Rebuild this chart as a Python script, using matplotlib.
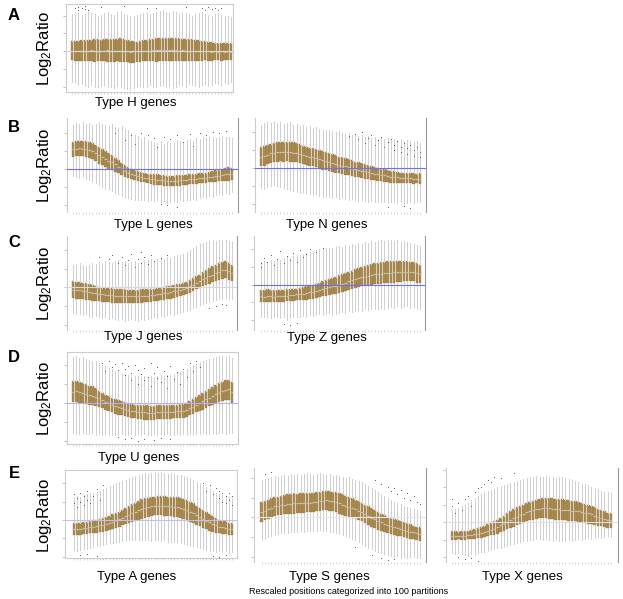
import matplotlib
matplotlib.use("Agg")
import matplotlib.pyplot as plt

plt.rcParams['font.family'] = ['Liberation Sans', 'DejaVu Sans']
plt.rcParams['mathtext.default'] = 'regular'

# 50 boxes per panel, values in log2 ratio
# Type H
h_q3 = [0.56,0.55,0.58,0.6,0.62,0.6,0.63,0.65,0.66,0.64,0.68,0.7,0.68,0.66,0.7,0.72,0.7,0.62,0.58,0.55,0.52,0.55,0.6,0.64,0.68,0.7,0.72,0.74,0.75,0.73,0.76,0.75,0.74,0.72,0.7,0.68,0.7,0.66,0.62,0.6,0.56,0.54,0.5,0.48,0.47,0.45,0.44,0.45,0.43,0.44]
h_q1 = [-0.52,-0.55,-0.54,-0.56,-0.58,-0.57,-0.58,-0.6,-0.58,-0.56,-0.58,-0.6,-0.62,-0.6,-0.58,-0.6,-0.62,-0.64,-0.66,-0.65,-0.63,-0.6,-0.58,-0.57,-0.56,-0.58,-0.6,-0.58,-0.57,-0.56,-0.58,-0.56,-0.55,-0.56,-0.57,-0.56,-0.55,-0.54,-0.56,-0.55,-0.54,-0.53,-0.55,-0.54,-0.52,-0.53,-0.54,-0.52,-0.53,-0.52]
h_med = [0.0,0.02,-0.01,0.01,0.0,0.02,0.03,0.01,0.0,0.02,0.01,0.03,0.02,0.0,0.01,0.02,0.0,-0.02,-0.03,-0.02,-0.01,0.0,0.01,0.02,0.02,0.03,0.04,0.03,0.04,0.03,0.05,0.04,0.03,0.02,0.03,0.01,0.02,0.0,-0.01,0.0,-0.02,-0.01,-0.02,-0.03,-0.02,-0.03,-0.02,-0.03,-0.02,-0.03]
h_hi = [2.1,2.15,2.2,2.05,2.1,2.2,2.15,2.1,2.0,2.05,2.15,2.2,2.1,2.05,2.2,2.25,2.1,2.05,2.0,2.0,2.05,2.1,2.15,2.2,2.1,2.15,2.2,2.25,2.3,2.2,2.15,2.25,2.2,2.1,2.2,2.15,2.1,2.0,2.1,2.15,2.2,2.1,2.05,2.0,2.1,2.15,2.05,2.0,1.95,1.9]
h_lo = [-1.75,-1.8,-1.9,-1.85,-1.95,-2.0,-1.9,-2.05,-2.0,-1.95,-1.9,-2.0,-2.05,-2.1,-1.95,-2.0,-2.1,-2.15,-2.2,-2.1,-2.0,-1.95,-2.05,-2.0,-1.9,-2.0,-2.05,-1.95,-1.9,-2.0,-1.95,-2.1,-2.0,-1.9,-1.95,-2.0,-1.85,-1.9,-1.95,-2.0,-1.9,-1.85,-1.95,-1.9,-1.8,-1.85,-1.9,-1.8,-1.85,-1.75]
h_out_x = [2,3,3,4,5,5,6,10,17,24,27,36,41,42,43,44,45,46,47]
h_out_y = [2.4,2.5,2.3,2.45,2.35,2.55,2.3,2.5,2.55,2.45,2.4,2.5,2.4,2.3,2.5,2.35,2.45,2.3,2.4]

# Type L
l_q3 = [1.52,1.55,1.57,1.55,1.57,1.5,1.42,1.33,1.24,1.13,1.0,0.9,0.78,0.62,0.48,0.33,0.22,0.1,0.0,-0.05,-0.12,-0.18,-0.22,-0.26,-0.28,-0.3,-0.3,-0.32,-0.34,-0.38,-0.38,-0.38,-0.36,-0.36,-0.34,-0.32,-0.3,-0.3,-0.27,-0.24,-0.22,-0.2,-0.16,-0.12,-0.08,-0.05,0.0,0.05,0.1,0.08]
l_q1 = [0.69,0.7,0.72,0.7,0.68,0.62,0.55,0.45,0.3,0.2,0.1,0.02,-0.05,-0.15,-0.25,-0.35,-0.43,-0.5,-0.55,-0.6,-0.65,-0.7,-0.75,-0.8,-0.85,-0.87,-0.88,-0.9,-0.92,-0.94,-0.94,-0.94,-0.93,-0.92,-0.9,-0.88,-0.86,-0.84,-0.82,-0.8,-0.78,-0.76,-0.74,-0.72,-0.7,-0.68,-0.66,-0.65,-0.65,-0.62]
l_med = [1.1,1.12,1.15,1.12,1.13,1.08,1.0,0.9,0.78,0.67,0.55,0.45,0.37,0.25,0.12,0.0,-0.1,-0.2,-0.27,-0.33,-0.38,-0.43,-0.48,-0.52,-0.55,-0.58,-0.6,-0.6,-0.62,-0.65,-0.66,-0.66,-0.65,-0.64,-0.62,-0.6,-0.58,-0.57,-0.55,-0.52,-0.5,-0.48,-0.45,-0.42,-0.4,-0.37,-0.33,-0.3,-0.28,-0.27]
l_hi = [2.45,2.55,2.5,2.6,2.5,2.55,2.45,2.5,2.6,2.5,2.45,2.4,2.5,2.35,2.3,2.4,2.2,2.15,2.0,1.9,1.85,1.7,1.75,1.6,1.55,1.5,1.45,1.55,1.4,1.5,1.45,1.5,1.6,1.55,1.5,1.6,1.65,1.55,1.7,1.65,1.75,1.7,1.8,1.75,1.7,1.8,1.85,1.75,1.8,1.7]
l_lo = [-0.4,-0.45,-0.5,-0.45,-0.55,-0.6,-0.7,-0.8,-0.9,-1.0,-1.1,-1.15,-1.25,-1.35,-1.4,-1.5,-1.55,-1.6,-1.65,-1.7,-1.7,-1.75,-1.7,-1.8,-1.75,-1.8,-1.75,-1.85,-1.8,-1.9,-1.85,-1.8,-1.85,-1.75,-1.8,-1.7,-1.75,-1.65,-1.7,-1.6,-1.55,-1.6,-1.5,-1.55,-1.45,-1.4,-1.45,-1.35,-1.4,-1.3]
l_out_x = [14,17,19,20,22,24,26,27,29,31,33,35,37,38,40,42,44,46,48,30,33,28]
l_out_y = [2.0,1.6,1.9,1.4,2.0,1.9,1.7,1.2,1.8,1.65,1.9,1.5,1.95,1.3,2.0,1.9,2.05,2.0,2.1,-2.0,-2.1,-1.95]

# Type N
n_q3 = [1.2,1.25,1.3,1.35,1.4,1.44,1.47,1.48,1.46,1.45,1.43,1.38,1.32,1.26,1.2,1.15,1.1,1.05,1.0,0.93,0.88,0.82,0.77,0.72,0.65,0.6,0.55,0.5,0.43,0.37,0.32,0.27,0.22,0.16,0.1,0.06,0.02,-0.02,-0.06,-0.1,-0.14,-0.18,-0.2,-0.24,-0.27,-0.28,-0.29,-0.28,-0.3,-0.28]
n_q1 = [0.1,0.15,0.22,0.28,0.32,0.36,0.38,0.37,0.38,0.36,0.35,0.32,0.28,0.25,0.2,0.15,0.1,0.05,0.0,-0.08,-0.12,-0.16,-0.2,-0.24,-0.28,-0.32,-0.36,-0.4,-0.43,-0.46,-0.5,-0.53,-0.57,-0.6,-0.64,-0.67,-0.7,-0.72,-0.75,-0.78,-0.8,-0.81,-0.82,-0.83,-0.83,-0.84,-0.84,-0.85,-0.84,-0.85]
n_med = [0.65,0.7,0.76,0.82,0.85,0.88,0.9,0.89,0.88,0.88,0.87,0.84,0.8,0.75,0.7,0.65,0.6,0.55,0.5,0.43,0.38,0.33,0.28,0.24,0.19,0.14,0.1,0.05,0.0,-0.04,-0.09,-0.13,-0.17,-0.22,-0.27,-0.3,-0.34,-0.37,-0.4,-0.44,-0.47,-0.5,-0.51,-0.53,-0.55,-0.56,-0.56,-0.57,-0.57,-0.57]
n_hi = [2.4,2.5,2.55,2.5,2.6,2.5,2.55,2.45,2.5,2.55,2.4,2.45,2.35,2.4,2.3,2.35,2.25,2.3,2.2,2.15,2.1,2.15,2.05,2.0,2.05,1.95,1.9,1.95,1.85,1.9,1.8,1.85,1.75,1.8,1.7,1.75,1.65,1.7,1.6,1.7,1.65,1.6,1.55,1.6,1.5,1.55,1.5,1.45,1.5,1.4]
n_lo = [-1.1,-1.15,-1.05,-1.0,-0.95,-1.0,-1.05,-1.1,-1.15,-1.2,-1.25,-1.3,-1.35,-1.3,-1.4,-1.45,-1.5,-1.45,-1.55,-1.6,-1.55,-1.6,-1.65,-1.6,-1.7,-1.65,-1.7,-1.75,-1.7,-1.75,-1.8,-1.75,-1.8,-1.85,-1.8,-1.85,-1.9,-1.85,-1.9,-1.95,-1.85,-1.9,-1.95,-1.9,-2.0,-1.95,-1.9,-1.95,-1.85,-1.9]
n_out_x = [28,30,31,32,33,34,35,36,37,38,39,40,41,42,42,43,44,44,45,46,46,47,48,48,49,50,50,45,47,40]
n_out_y = [1.8,1.9,1.6,2.0,1.4,1.7,1.85,1.3,1.55,1.75,1.2,1.45,1.65,1.0,1.3,1.5,0.9,1.2,1.4,0.8,1.1,1.3,0.7,1.0,1.2,0.9,0.6,-2.1,-2.2,-2.15]

# Type J
j_q3 = [0.32,0.3,0.28,0.25,0.22,0.15,0.1,0.05,0.0,-0.02,-0.04,-0.05,-0.06,-0.08,-0.09,-0.1,-0.11,-0.12,-0.12,-0.12,-0.12,-0.11,-0.1,-0.1,-0.09,-0.07,-0.05,-0.02,0.0,0.05,0.08,0.12,0.15,0.18,0.23,0.3,0.38,0.48,0.58,0.68,0.8,0.92,1.02,1.12,1.2,1.28,1.35,1.39,1.3,1.2]
j_q1 = [-0.57,-0.6,-0.62,-0.65,-0.67,-0.7,-0.72,-0.73,-0.75,-0.76,-0.78,-0.8,-0.82,-0.83,-0.84,-0.84,-0.85,-0.84,-0.84,-0.83,-0.83,-0.82,-0.8,-0.8,-0.78,-0.75,-0.72,-0.7,-0.67,-0.64,-0.6,-0.57,-0.52,-0.48,-0.42,-0.35,-0.28,-0.2,-0.1,-0.04,0.05,0.12,0.2,0.26,0.32,0.38,0.45,0.5,0.4,0.32]
j_med = [-0.12,-0.15,-0.17,-0.2,-0.22,-0.27,-0.3,-0.33,-0.36,-0.38,-0.4,-0.42,-0.43,-0.45,-0.46,-0.47,-0.48,-0.48,-0.48,-0.47,-0.47,-0.46,-0.45,-0.45,-0.43,-0.41,-0.38,-0.36,-0.33,-0.3,-0.26,-0.22,-0.18,-0.15,-0.1,-0.03,0.05,0.14,0.24,0.32,0.42,0.52,0.6,0.68,0.75,0.83,0.9,0.95,0.85,0.76]
j_hi = [1.2,1.25,1.3,1.2,1.15,1.2,1.3,1.25,1.35,1.3,1.4,1.35,1.3,1.4,1.45,1.35,1.4,1.3,1.35,1.4,1.3,1.35,1.4,1.45,1.5,1.4,1.5,1.55,1.5,1.6,1.55,1.65,1.7,1.75,1.8,1.9,2.0,2.1,2.2,2.3,2.35,2.4,2.45,2.5,2.45,2.5,2.55,2.5,2.45,2.4]
j_lo = [-1.35,-1.4,-1.45,-1.5,-1.45,-1.55,-1.6,-1.55,-1.6,-1.65,-1.6,-1.7,-1.65,-1.7,-1.75,-1.7,-1.8,-1.75,-1.7,-1.75,-1.8,-1.7,-1.75,-1.7,-1.65,-1.6,-1.65,-1.55,-1.6,-1.5,-1.45,-1.5,-1.4,-1.35,-1.3,-1.25,-1.2,-1.1,-1.05,-0.95,-0.9,-0.85,-0.8,-0.75,-0.7,-0.65,-0.6,-0.55,-0.6,-0.65]
j_out_x = [12,13,15,16,17,18,19,20,21,22,22,23,24,25,26,28,30,9,43,45,47,48]
j_out_y = [1.5,1.7,1.3,1.6,1.2,1.45,1.8,1.1,1.5,1.9,1.3,1.6,1.25,1.7,1.4,1.55,1.75,1.6,-1.1,-1.0,-0.9,-0.95]

# Type Z
z_q3 = [-0.28,-0.3,-0.27,-0.29,-0.3,-0.28,-0.29,-0.28,-0.27,-0.26,-0.25,-0.22,-0.18,-0.14,-0.09,-0.04,0.0,0.06,0.12,0.19,0.25,0.3,0.37,0.44,0.52,0.58,0.65,0.72,0.8,0.88,0.95,1.0,1.06,1.12,1.18,1.22,1.25,1.28,1.3,1.32,1.33,1.32,1.34,1.32,1.33,1.32,1.3,1.28,1.2,1.13]
z_q1 = [-0.98,-0.99,-0.97,-0.98,-0.99,-0.98,-0.98,-0.96,-0.94,-0.92,-0.9,-0.88,-0.87,-0.86,-0.85,-0.82,-0.8,-0.76,-0.72,-0.66,-0.62,-0.58,-0.55,-0.51,-0.47,-0.43,-0.38,-0.32,-0.26,-0.19,-0.14,-0.1,-0.06,-0.02,0.0,0.02,0.04,0.06,0.08,0.09,0.1,0.12,0.14,0.16,0.18,0.19,0.2,0.2,0.12,0.09]
z_med = [-0.66,-0.67,-0.65,-0.66,-0.67,-0.65,-0.66,-0.64,-0.62,-0.6,-0.58,-0.55,-0.53,-0.5,-0.47,-0.43,-0.4,-0.35,-0.3,-0.24,-0.19,-0.14,-0.1,-0.05,0.01,0.06,0.12,0.18,0.24,0.3,0.36,0.41,0.46,0.5,0.55,0.58,0.61,0.63,0.65,0.67,0.68,0.69,0.7,0.71,0.72,0.72,0.73,0.72,0.66,0.62]
z_hi = [1.3,1.35,1.3,1.4,1.35,1.45,1.4,1.5,1.55,1.5,1.6,1.65,1.7,1.75,1.8,1.85,1.9,1.95,2.0,2.05,2.1,2.05,2.1,2.15,2.2,2.15,2.25,2.2,2.3,2.25,2.35,2.3,2.4,2.35,2.45,2.4,2.45,2.5,2.45,2.5,2.55,2.45,2.5,2.4,2.45,2.4,2.35,2.3,2.25,2.2]
z_lo = [-1.8,-1.85,-1.8,-1.9,-1.85,-1.8,-1.9,-1.85,-2.0,-1.9,-1.85,-1.8,-1.85,-1.75,-1.8,-1.7,-1.75,-1.7,-1.65,-1.7,-1.65,-1.6,-1.7,-1.65,-1.6,-1.55,-1.6,-1.5,-1.55,-1.5,-1.45,-1.5,-1.4,-1.45,-1.4,-1.35,-1.4,-1.3,-1.35,-1.3,-1.25,-1.3,-1.2,-1.3,-1.25,-1.2,-1.3,-1.25,-1.3,-1.35]
z_out_x = [1,1,2,3,4,5,6,7,8,9,10,11,12,13,14,15,16,18,20,8,10,12]
z_out_y = [1.2,1.0,1.5,1.3,1.7,1.1,1.45,1.9,1.25,1.6,1.4,1.8,1.3,1.95,1.55,1.75,2.0,1.85,2.1,-2.2,-2.3,-2.15]

# Type U
u_q3 = [1.14,1.15,1.12,1.05,0.98,0.92,0.88,0.78,0.66,0.55,0.44,0.36,0.28,0.2,0.14,0.09,0.04,-0.01,-0.05,-0.08,-0.1,-0.12,-0.13,-0.13,-0.14,-0.14,-0.13,-0.12,-0.12,-0.11,-0.1,-0.09,-0.08,-0.07,-0.05,0.02,0.1,0.2,0.32,0.44,0.55,0.66,0.76,0.86,0.96,1.05,1.13,1.2,1.23,1.1]
u_q1 = [0.05,0.04,0.02,-0.02,-0.06,-0.08,-0.09,-0.14,-0.2,-0.27,-0.35,-0.42,-0.5,-0.56,-0.61,-0.66,-0.7,-0.74,-0.78,-0.82,-0.85,-0.87,-0.88,-0.88,-0.89,-0.88,-0.87,-0.86,-0.85,-0.84,-0.83,-0.82,-0.81,-0.8,-0.79,-0.72,-0.64,-0.56,-0.48,-0.44,-0.35,-0.26,-0.18,-0.1,-0.02,0.05,0.1,0.15,0.18,0.0]
u_med = [0.6,0.62,0.58,0.52,0.46,0.42,0.38,0.32,0.24,0.15,0.06,-0.02,-0.1,-0.17,-0.22,-0.27,-0.32,-0.36,-0.4,-0.44,-0.47,-0.49,-0.5,-0.51,-0.51,-0.51,-0.5,-0.49,-0.48,-0.47,-0.46,-0.45,-0.44,-0.43,-0.42,-0.36,-0.28,-0.2,-0.1,0.0,0.1,0.2,0.29,0.38,0.46,0.54,0.62,0.68,0.72,0.56]
u_hi = [2.45,2.5,2.4,2.45,2.35,2.3,2.25,2.2,2.1,2.0,1.95,1.85,1.8,1.7,1.65,1.6,1.55,1.5,1.5,1.45,1.45,1.4,1.45,1.4,1.45,1.4,1.45,1.5,1.45,1.5,1.5,1.55,1.6,1.65,1.7,1.8,1.9,2.0,2.05,2.15,2.2,2.3,2.35,2.4,2.45,2.5,2.5,2.45,2.5,2.4]
u_lo = [-1.6,-1.62,-1.65,-1.6,-1.63,-1.65,-1.6,-1.68,-1.65,-1.7,-1.66,-1.7,-1.68,-1.72,-1.7,-1.66,-1.7,-1.68,-1.65,-1.7,-1.66,-1.68,-1.65,-1.7,-1.67,-1.65,-1.68,-1.66,-1.7,-1.65,-1.68,-1.7,-1.65,-1.68,-1.66,-1.7,-1.65,-1.68,-1.62,-1.65,-1.6,-1.62,-1.65,-1.6,-1.62,-1.58,-1.6,-1.62,-1.6,-1.58]
u_out_x = [10,11,12,13,14,15,16,17,17,18,19,19,20,21,21,22,23,23,24,25,25,26,27,27,28,29,30,30,31,32,33,34,35,36,37,38,39,40,15,17,19,21,23,26,28,31]
u_out_y = [2.1,1.7,2.2,1.9,2.05,1.75,2.1,1.8,1.5,1.95,1.6,1.2,2.0,1.75,1.0,1.55,1.85,1.2,1.4,2.1,0.9,1.6,1.3,1.9,1.1,1.7,1.45,0.8,1.95,1.25,1.65,1.0,1.8,1.4,2.1,1.7,2.2,1.9,-1.8,-1.9,-1.85,-2.0,-1.9,-1.95,-1.85,-1.9]

# Type A
a_q3 = [-0.18,-0.15,-0.16,-0.12,-0.1,-0.06,-0.02,0.02,0.06,0.09,0.15,0.22,0.3,0.38,0.45,0.55,0.65,0.75,0.85,0.95,1.05,1.12,1.18,1.22,1.26,1.28,1.3,1.3,1.29,1.28,1.28,1.27,1.25,1.2,1.15,1.08,1.0,0.9,0.78,0.65,0.52,0.42,0.32,0.2,0.1,0.02,-0.05,-0.08,-0.15,-0.18]
a_q1 = [-0.82,-0.83,-0.8,-0.78,-0.76,-0.74,-0.72,-0.7,-0.67,-0.64,-0.6,-0.55,-0.5,-0.44,-0.36,-0.3,-0.24,-0.18,-0.12,-0.06,0.0,0.06,0.12,0.18,0.22,0.25,0.27,0.26,0.24,0.22,0.2,0.18,0.16,0.1,0.04,-0.03,-0.09,-0.16,-0.25,-0.34,-0.43,-0.52,-0.58,-0.64,-0.7,-0.73,-0.76,-0.78,-0.8,-0.82]
a_med = [-0.5,-0.5,-0.48,-0.45,-0.43,-0.4,-0.37,-0.34,-0.3,-0.27,-0.22,-0.16,-0.1,-0.03,0.05,0.12,0.2,0.28,0.36,0.45,0.53,0.6,0.66,0.7,0.74,0.76,0.78,0.78,0.77,0.76,0.74,0.72,0.7,0.65,0.6,0.53,0.46,0.37,0.27,0.16,0.05,-0.05,-0.13,-0.22,-0.3,-0.36,-0.41,-0.44,-0.48,-0.5]
a_hi = [1.25,1.3,1.28,1.35,1.4,1.45,1.5,1.55,1.6,1.7,1.75,1.85,1.9,2.0,2.05,2.15,2.2,2.3,2.35,2.4,2.45,2.5,2.55,2.5,2.55,2.6,2.55,2.6,2.55,2.5,2.55,2.5,2.45,2.45,2.4,2.35,2.3,2.2,2.1,2.0,1.9,1.8,1.7,1.6,1.5,1.4,1.35,1.3,1.25,1.2]
a_lo = [-1.64,-1.7,-1.65,-1.6,-1.58,-1.55,-1.5,-1.45,-1.4,-1.35,-1.3,-1.28,-1.25,-1.2,-1.18,-1.15,-1.15,-1.12,-1.1,-1.1,-1.08,-1.1,-1.12,-1.1,-1.15,-1.12,-1.1,-1.15,-1.12,-1.18,-1.2,-1.18,-1.22,-1.25,-1.3,-1.35,-1.4,-1.45,-1.5,-1.55,-1.6,-1.65,-1.7,-1.72,-1.75,-1.7,-1.75,-1.72,-1.78,-1.75]
a_out_x = [1,1,2,2,3,3,4,4,5,5,6,7,8,9,10,41,42,43,44,45,46,46,47,47,48,48,49,49,50,50,3,5,8,44,46,48]
a_out_y = [0.9,1.4,0.7,1.2,1.0,1.5,0.8,1.3,1.1,1.6,0.9,1.3,1.7,1.1,1.9,2.0,1.6,1.9,1.4,1.75,1.2,1.6,1.0,1.45,1.3,0.9,1.5,1.1,1.3,0.8,-1.9,-1.85,-1.95,-1.95,-2.0,-1.9]

# Type S
s_q3 = [0.8,0.85,0.9,0.97,1.03,1.07,1.12,1.15,1.2,1.22,1.23,1.22,1.24,1.23,1.25,1.23,1.26,1.3,1.32,1.35,1.37,1.36,1.32,1.28,1.23,1.18,1.12,1.05,0.98,0.9,0.82,0.74,0.65,0.56,0.46,0.38,0.3,0.2,0.12,0.03,-0.04,-0.1,-0.15,-0.2,-0.24,-0.3,-0.36,-0.42,-0.48,-0.5]
s_q1 = [-0.22,-0.15,-0.08,0.0,0.06,0.12,0.14,0.16,0.18,0.2,0.2,0.22,0.23,0.25,0.27,0.29,0.3,0.32,0.34,0.36,0.38,0.35,0.31,0.26,0.2,0.14,0.08,0.03,-0.02,-0.05,-0.12,-0.2,-0.3,-0.4,-0.48,-0.56,-0.63,-0.7,-0.76,-0.82,-0.87,-0.9,-0.94,-0.97,-0.99,-1.04,-1.08,-1.12,-1.16,-1.18]
s_med = [0.29,0.35,0.42,0.5,0.56,0.6,0.63,0.66,0.69,0.71,0.72,0.72,0.74,0.74,0.76,0.76,0.78,0.81,0.83,0.86,0.88,0.86,0.82,0.77,0.72,0.66,0.6,0.54,0.48,0.42,0.35,0.27,0.18,0.08,-0.01,-0.09,-0.17,-0.25,-0.32,-0.39,-0.45,-0.5,-0.55,-0.59,-0.62,-0.67,-0.72,-0.77,-0.82,-0.84]
s_hi = [1.9,1.95,2.0,2.05,2.1,2.05,2.1,2.15,2.1,2.2,2.15,2.2,2.15,2.2,2.25,2.2,2.15,2.2,2.25,2.2,2.15,2.2,2.1,2.15,2.1,2.05,2.0,2.05,1.95,1.9,1.85,1.8,1.7,1.6,1.5,1.4,1.3,1.2,1.1,1.0,0.9,0.8,0.75,0.7,0.6,0.55,0.5,0.45,0.4,0.35]
s_lo = [-1.16,-1.1,-1.0,-0.95,-0.9,-0.85,-0.82,-0.8,-0.78,-0.75,-0.75,-0.72,-0.7,-0.72,-0.7,-0.68,-0.7,-0.68,-0.66,-0.68,-0.7,-0.72,-0.75,-0.8,-0.85,-0.9,-0.95,-1.0,-1.1,-1.15,-1.25,-1.35,-1.45,-1.55,-1.6,-1.7,-1.75,-1.8,-1.85,-1.9,-1.95,-2.0,-1.95,-2.05,-2.0,-2.1,-2.05,-2.0,-2.1,-2.05]
s_out_x = [36,38,40,41,42,43,44,45,46,47,48,49,50,2,4,30,35,38,40,42]
s_out_y = [1.9,1.7,1.55,1.35,1.5,1.2,1.4,1.0,1.25,0.9,1.1,0.8,0.7,2.2,2.3,-1.5,-1.9,-2.1,-2.2,-2.15]

# Type X
x_q3 = [-0.53,-0.52,-0.54,-0.5,-0.52,-0.48,-0.42,-0.38,-0.34,-0.28,-0.2,-0.12,-0.04,0.04,0.14,0.26,0.38,0.5,0.66,0.75,0.84,0.92,1.0,1.08,1.15,1.2,1.26,1.32,1.36,1.38,1.38,1.36,1.34,1.3,1.3,1.28,1.25,1.22,1.18,1.15,1.1,1.05,1.0,0.92,0.85,0.78,0.7,0.62,0.55,0.5]
x_q1 = [-1.0,-1.02,-0.98,-1.0,-0.99,-0.98,-0.97,-0.95,-0.92,-0.88,-0.84,-0.8,-0.75,-0.72,-0.65,-0.57,-0.49,-0.41,-0.34,-0.26,-0.18,-0.1,-0.03,0.04,0.1,0.15,0.19,0.22,0.23,0.22,0.2,0.17,0.14,0.13,0.12,0.1,0.08,0.06,0.04,0.02,0.0,-0.04,-0.08,-0.12,-0.16,-0.2,-0.24,-0.28,-0.32,-0.34]
x_med = [-0.78,-0.79,-0.77,-0.77,-0.77,-0.75,-0.72,-0.69,-0.66,-0.6,-0.54,-0.48,-0.42,-0.36,-0.28,-0.18,-0.08,0.02,0.12,0.22,0.32,0.4,0.48,0.56,0.64,0.7,0.74,0.78,0.8,0.8,0.8,0.78,0.76,0.74,0.72,0.7,0.68,0.66,0.64,0.62,0.58,0.54,0.5,0.44,0.38,0.32,0.26,0.2,0.14,0.1]
x_hi = [0.7,0.75,0.8,0.9,1.0,1.1,1.25,1.4,1.5,1.6,1.7,1.8,1.85,1.9,2.0,2.05,2.1,2.2,2.25,2.3,2.35,2.4,2.45,2.5,2.55,2.6,2.65,2.6,2.55,2.65,2.6,2.55,2.5,2.6,2.55,2.5,2.45,2.4,2.35,2.3,2.2,2.15,2.1,2.0,1.95,1.9,1.8,1.75,1.7,1.65]
x_lo = [-1.77,-1.8,-1.75,-1.8,-1.85,-1.9,-1.8,-1.85,-1.75,-1.7,-1.7,-1.65,-1.6,-1.55,-1.5,-1.45,-1.4,-1.35,-1.3,-1.25,-1.2,-1.15,-1.1,-1.05,-1.0,-1.0,-0.95,-0.95,-1.0,-0.95,-1.0,-1.05,-1.0,-1.05,-1.1,-1.05,-1.0,-1.05,-1.0,-0.95,-1.0,-0.95,-0.9,-0.95,-0.9,-0.85,-0.9,-0.85,-0.8,-0.82]
x_out_x = [1,1,2,3,4,5,6,7,8,9,10,11,12,13,14,16,20,3,5,7,9]
x_out_y = [0.9,1.3,0.5,1.1,0.7,1.3,1.5,0.9,1.7,1.95,2.0,2.2,2.4,2.3,2.6,2.5,2.8,-2.0,-2.1,-2.05,-2.2]

titles = ["Type H genes", "Type L genes", "Type N genes", "Type J genes", "Type Z genes",
          "Type U genes", "Type A genes", "Type S genes", "Type X genes"]
row_letters = ["A", "B", "C", "D", "E"]

W, H = 623, 599
BOX = '#aa8b50'
WHISK = '#d0d0d0'


def rect(x1, y1, x2, y2):
    return [x1 / W, 1 - y2 / H, (x2 - x1) / W, (y2 - y1) / H]


def draw(ax, q1, med, q3, lo, hi, ox, oy, xlim, ylim, ref, frame, rcol='#9a9a9a'):
    stats = []
    for i in range(len(med)):
        fl = [oy[k] for k in range(len(ox)) if ox[k] == i + 1]
        stats.append({'med': med[i], 'q1': q1[i], 'q3': q3[i],
                      'whislo': lo[i], 'whishi': hi[i], 'fliers': fl})
    ax.bxp(stats, positions=range(1, len(med) + 1), widths=0.82, patch_artist=True,
           showcaps=False, manage_ticks=False,
           boxprops=dict(facecolor=BOX, edgecolor='#8e7242', linewidth=0.25),
           whiskerprops=dict(color=WHISK, linewidth=0.75),
           medianprops=dict(color='#c9c1b0', linewidth=0.9),
           flierprops=dict(marker='.', markersize=1.6, markerfacecolor='#555555',
                           markeredgecolor='none'))
    ax.axhline(0, color=ref, lw=0.8, zorder=5)
    ax.set_xlim(*xlim)
    ax.set_ylim(*ylim)
    yt = [-2, -1, 0, 1, 2] if ylim[1] < 3 else [-2, -1, 0, 1, 2, 3]
    ax.set_yticks(yt)
    ax.set_xticks(range(1, len(med) + 1))
    ax.tick_params(axis='y', length=2, width=0.5, color='#aaaaaa', labelleft=False)
    ax.tick_params(axis='x', length=1.5, width=0.5, color='#c4c4c4', labelbottom=False)
    for s in ax.spines.values():
        s.set_color('#cccccc')
        s.set_linewidth(0.8)
    if not frame:
        ax.spines['top'].set_visible(False)
        ax.spines['bottom'].set_visible(False)
        ax.spines['right'].set_color(rcol)


fig = plt.figure(figsize=(W / 100, H / 100), dpi=100)

BLUE = '#6f6ff2'
panels = [
    (rect(66, 4, 233, 92), h_q1, h_med, h_q3, h_lo, h_hi, h_out_x, h_out_y, (-0.85, 50.6), (-2.31, 2.65), '#d8d8d8', True),
    (rect(67, 118, 238, 212), l_q1, l_med, l_q3, l_lo, l_hi, l_out_x, l_out_y, (-0.85, 51.85), (-2.39, 2.83), BLUE, False),
    (rect(255, 118, 426, 212), n_q1, n_med, n_q3, n_lo, n_hi, n_out_x, n_out_y, (-0.85, 51.85), (-2.43, 2.79), BLUE, False),
    (rect(67, 236, 237, 330), j_q1, j_med, j_q3, j_lo, j_hi, j_out_x, j_out_y, (-0.85, 51.5), (-2.28, 2.74), '#d8d8d8', False),
    (rect(254, 236, 425, 330), z_q1, z_med, z_q3, z_lo, z_hi, z_out_x, z_out_y, (-1.15, 51.5), (-2.56, 2.75), BLUE, False),
    (rect(67, 352, 238, 444), u_q1, u_med, u_q3, u_lo, u_hi, u_out_x, u_out_y, (-0.85, 51.85), (-2.17, 2.70), '#b4b4f2', True),
    (rect(65, 470, 237, 558), a_q1, a_med, a_q3, a_lo, a_hi, a_out_x, a_out_y, (-1.8, 51.5), (-2.08, 2.73), '#c0c0f2', True),
    (rect(254, 468, 426, 562), s_q1, s_med, s_q3, s_lo, s_hi, s_out_x, s_out_y, (-1.4, 51.85), (-2.28, 2.53), '#e6e6e6', False),
    (rect(446, 468, 618, 562), x_q1, x_med, x_q3, x_lo, x_hi, x_out_x, x_out_y, (-0.85, 52.2), (-2.27, 3.09), '#e0e0e0', False),
]
for p in panels:
    ax = fig.add_axes(p[0])
    draw(ax, *p[1:])

# panel titles (x center, y center in pixels)
title_pos = [(136, 103), (153, 225), (327, 225), (143, 337), (327, 338),
             (139, 458), (137, 577), (329, 577), (522, 577)]
for t, (x, y) in zip(titles, title_pos):
    fig.text(x / W, 1 - y / H, t, ha='center', va='center', fontsize=9.5)

letter_y = [16, 128, 243, 358, 473]
ylabel_y = [48, 165, 283, 398, 515]
for k in range(5):
    fig.text(14 / W, 1 - letter_y[k] / H, row_letters[k], ha='center', va='center',
             fontsize=12, fontweight='bold')
    fig.text(45 / W, 1 - ylabel_y[k] / H, 'Log$_2$Ratio', ha='center', va='center',
             rotation=90, fontsize=12)

fig.text(349 / W, 1 - 591 / H, 'Rescaled positions categorized into 100 partitions',
         ha='center', va='center', fontsize=6.5)

fig.savefig('out.png', dpi=100)
